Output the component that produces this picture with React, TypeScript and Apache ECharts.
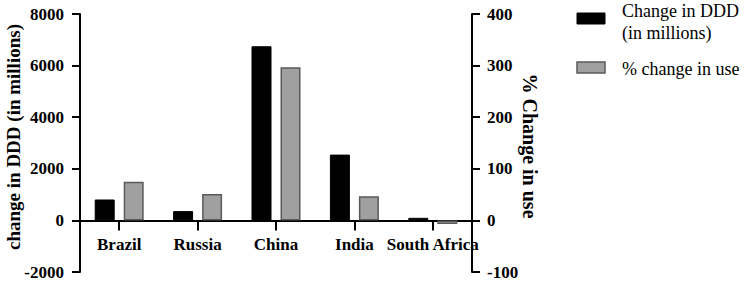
import React, { useEffect, useRef } from "react";
import * as echarts from "echarts";

const categories = ["Brazil", "Russia", "China", "India", "South Africa"];
const dddChange = [810, 360, 6750, 2550, 100];
const pctChange = [75, 51, 297, 47, -7];
const seriesNames = ["Change in DDD\n(in millions)", "% change in use"];
const leftAxisTitle = "change in DDD (in millions)";
const rightAxisTitle = "% Change in use";

const FONT = '"Times New Roman", "Liberation Serif", serif';

const GRID_TOP = 14;
const GRID_BOTTOM = 9;
const GRID_H = 281 - GRID_TOP - GRID_BOTTOM;
const LEFT_MIN = -2000;
const LEFT_MAX = 8000;

export default function App() {
  const ref = useRef<HTMLDivElement>(null);
  useEffect(() => {
    if (!ref.current) return;
    const chart = echarts.init(ref.current, null, { renderer: "svg" });
    const axisLine = { show: true, onZero: false, lineStyle: { color: "#000", width: 2 } };
    const plain = (v: number) => String(v);
    const zeroOffset = (GRID_H * (0 - LEFT_MIN)) / (LEFT_MAX - LEFT_MIN);
    chart.setOption({
      animation: false,
      grid: { left: 80, right: 277, top: GRID_TOP, bottom: GRID_BOTTOM, containLabel: false, outerBoundsMode: "none" },
      xAxis: {
        type: "category",
        data: categories,
        position: "bottom",
        offset: -zeroOffset,
        axisLine: { show: true, onZero: false, lineStyle: { color: "#000", width: 2 } },
        axisTick: { show: true, alignWithLabel: true, length: 10, lineStyle: { color: "#000", width: 2 } },
        axisLabel: { interval: 0, margin: 16, color: "#000", fontFamily: FONT, fontWeight: "bold", fontSize: 17 },
        splitLine: { show: false },
      },
      yAxis: [
        {
          type: "value",
          position: "left",
          min: LEFT_MIN,
          max: LEFT_MAX,
          interval: 2000,
          axisLine,
          axisTick: { show: true, length: 8, lineStyle: { color: "#000", width: 2 } },
          axisLabel: { margin: 16, color: "#000", fontFamily: FONT, fontWeight: "bold", fontSize: 17, formatter: plain },
          splitLine: { show: false },
        },
        {
          type: "value",
          position: "right",
          min: -100,
          max: 400,
          interval: 100,
          axisLine,
          axisTick: { show: true, length: 8, lineStyle: { color: "#000", width: 2 } },
          axisLabel: { margin: 15, color: "#000", fontFamily: FONT, fontWeight: "bold", fontSize: 17, formatter: plain },
          splitLine: { show: false },
        },
      ],
      series: [
        {
          name: seriesNames[0],
          type: "bar",
          yAxisIndex: 0,
          data: dddChange,
          barWidth: 20,
          barGap: "45%",
          itemStyle: { color: "#000", borderColor: "#000", borderWidth: 1 },
        },
        {
          name: seriesNames[1],
          type: "bar",
          yAxisIndex: 1,
          data: pctChange,
          barWidth: 20,
          itemStyle: { color: "#a0a0a0", borderColor: "#5a5a5a", borderWidth: 1.5 },
        },
      ],
      graphic: [
        {
          type: "text",
          x: 13,
          y: 137,
          rotation: Math.PI / 2,
          style: {
            text: leftAxisTitle,
            fill: "#000",
            font: `bold 19px ${FONT}`,
            textAlign: "center",
            textVerticalAlign: "middle",
          },
        },
        {
          type: "text",
          x: 530,
          y: 146,
          rotation: -Math.PI / 2,
          style: {
            text: rightAxisTitle,
            fill: "#000",
            font: `bold 20px ${FONT}`,
            textAlign: "center",
            textVerticalAlign: "middle",
          },
        },
        {
          type: "rect",
          shape: { x: 577, y: 13, width: 28, height: 11 },
          style: { fill: "#000", stroke: "#000", lineWidth: 1 },
        },
        {
          type: "text",
          x: 622,
          y: 0,
          style: {
            text: seriesNames[0],
            fill: "#000",
            font: `18px ${FONT}`,
            lineHeight: 22,
            textAlign: "left",
            textVerticalAlign: "top",
          },
        },
        {
          type: "rect",
          shape: { x: 577, y: 62, width: 28, height: 11 },
          style: { fill: "#a0a0a0", stroke: "#5a5a5a", lineWidth: 1.5 },
        },
        {
          type: "text",
          x: 622,
          y: 69,
          style: {
            text: seriesNames[1],
            fill: "#000",
            font: `18px ${FONT}`,
            textAlign: "left",
            textVerticalAlign: "middle",
          },
        },
      ],
    });
    return () => chart.dispose();
  }, []);
  return <div ref={ref} style={{ width: 749, height: 281, position: "absolute", left: 0, top: 0 }} />;
}
